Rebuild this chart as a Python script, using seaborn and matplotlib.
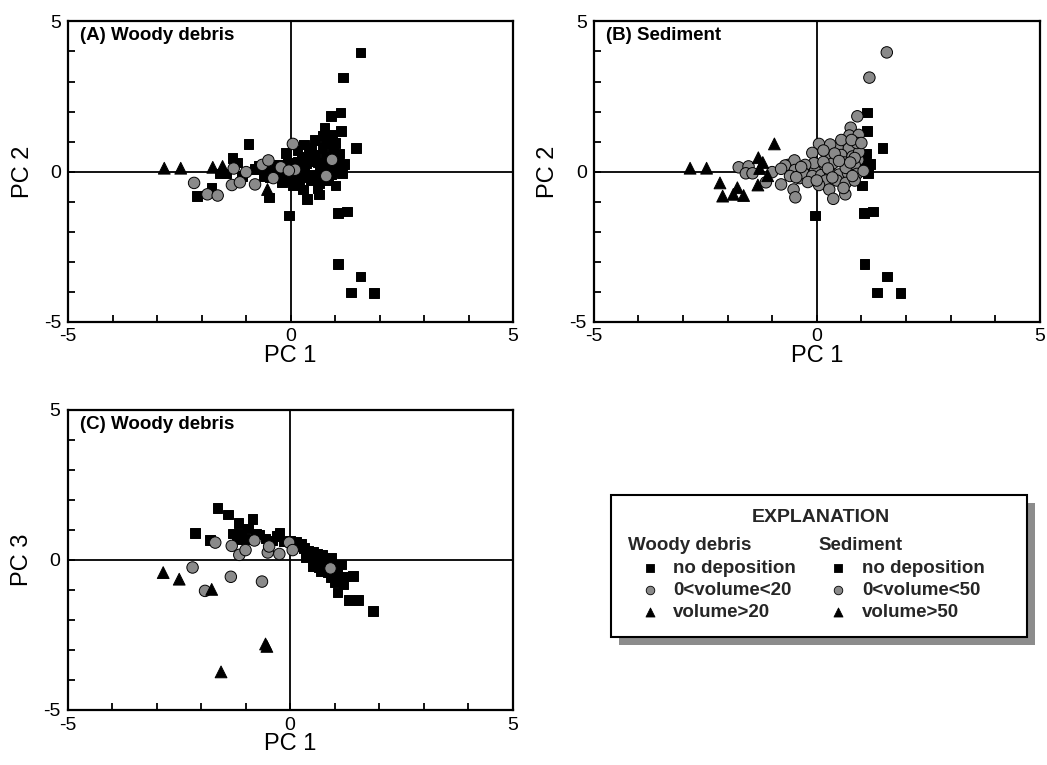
import matplotlib
matplotlib.use("Agg")
import matplotlib.pyplot as plt
from matplotlib.patches import Rectangle
import pandas as pd
import seaborn as sns

sns.set_theme(style="white")
plt.rcParams["font.family"] = ["Liberation Sans", "DejaVu Sans"]

# ---- Site scores on PC1 / PC2 (same sites in panels A and B) ----
pc1_ab = [
    -2.84, -2.47, -2.17, -2.11, -1.87, -1.78, -1.64, -1.75, -1.53, -1.59,
    -1.44, -1.31, -1.21, -1.28, -1.32, -1.14, -1.00, -0.95, -1.10, -0.80,
    -0.64, -0.50, -0.52, -0.48, -0.22, 0.05, 0.10, -0.04, 0.93, -0.39,
    1.57, 1.18, 1.12, 0.91, 1.13, 0.76, 0.73, 0.94, 1.47, 1.07,
    1.20, 1.01, -0.04, 1.06, 1.26, 1.07, 1.57, 1.35, 1.88, 0.47,
    0.72, 0.25, -0.10, 0.55, 0.80, 0.95, 0.36, 0.62, 0.85, 1.00,
    -0.06, 0.15, -0.26, -0.71, -0.49, -0.30, -0.10, 0.10, 0.30, 0.50,
    0.70, 0.90, -0.60, -0.80, 0.20, 0.45, 0.65, 0.85, 0.05, 0.28,
    0.37, 0.64, -0.46, 1.05, 0.90, 0.55, 0.30, 0.78, 1.00, 0.65,
    0.40, 0.15, -0.20, 0.80, 0.25, 0.50, 1.10, 0.85, 0.35, 0.60,
    0.00, -0.35, 0.75, 1.15,
]
pc2_ab = [
    0.11, 0.11, -0.38, -0.82, -0.76, -0.54, -0.80, 0.14, 0.17, -0.06,
    -0.06, 0.46, 0.30, 0.10, -0.45, -0.36, -0.02, 0.92, -0.14, -0.43,
    0.22, 0.37, -0.60, -0.86, 0.14, 0.92, 0.06, 0.03, 0.39, -0.22,
    3.97, 3.13, 1.97, 1.84, 1.34, 1.46, 1.20, 1.22, 0.78, 0.48,
    0.26, -0.47, -1.47, -1.38, -1.33, -3.09, -3.50, -4.03, -4.05, 0.80,
    0.78, 0.50, 0.62, 0.55, 0.50, 0.65, 0.27, 0.30, 0.22, 0.15,
    0.28, 0.32, 0.22, 0.20, 0.05, -0.05, -0.15, -0.12, -0.05, -0.10,
    -0.05, -0.08, -0.15, 0.09, -0.30, -0.30, -0.38, -0.30, -0.45, -0.60,
    -0.91, -0.76, -0.19, 0.02, 0.95, 1.05, 0.90, 1.05, 0.95, 0.12,
    0.60, 0.70, -0.35, -0.15, 0.10, 0.35, 0.60, 0.45, -0.20, -0.55,
    -0.30, 0.15, 0.30, -0.05,
]
# deposition class for each site: none / low / high
woody_ab = [
    "high", "high", "low", "none", "low", "none", "low", "high", "high", "none",
    "none", "none", "none", "low", "low", "low", "low", "none", "none", "low",
    "low", "low", "high", "none", "low", "low", "low", "low", "low", "low",
    "none", "none", "none", "none", "none", "none", "none", "none", "none", "none",
    "none", "none", "none", "none", "none", "none", "none", "none", "none", "none",
    "none", "none", "none", "none", "none", "none", "none", "none", "none", "none",
    "none", "none", "none", "none", "none", "none", "none", "none", "none", "none",
    "none", "none", "none", "none", "none", "none", "none", "none", "none", "none",
    "none", "none", "none", "none", "none", "none", "none", "none", "none", "none",
    "none", "none", "none", "low", "none", "none", "none", "none", "none", "none",
    "none", "none", "none", "none",
]
sediment_ab = [
    "high", "high", "high", "high", "high", "high", "high", "low", "low", "low",
    "low", "high", "high", "high", "high", "low", "low", "high", "high", "low",
    "low", "low", "low", "low", "low", "low", "low", "low", "low", "low",
    "low", "low", "none", "low", "none", "low", "low", "low", "none", "none",
    "none", "none", "none", "none", "none", "none", "none", "none", "none", "low",
    "low", "low", "low", "low", "low", "low", "low", "low", "low", "none",
    "low", "low", "low", "low", "low", "low", "low", "low", "low", "low",
    "low", "low", "low", "low", "low", "low", "low", "low", "low", "low",
    "low", "low", "low", "low", "low", "low", "low", "low", "low", "low",
    "low", "low", "low", "low", "low", "low", "none", "low", "low", "low",
    "low", "low", "low", "none",
]

# ---- Site scores on PC1 / PC3, coded by woody debris (panel C) ----
pc1_c = [
    -2.85, -2.49, -1.76, -1.55, -0.55, -0.52,
    -2.19, -1.91, -1.33, -0.63, -1.68, -1.31, -1.14, -1.00, -0.80, -0.50,
    -0.24, -0.47, -0.02, 0.06, 0.91,
    -1.63, -1.40, -1.16, -0.84, -2.13, -1.80, -1.29, -1.10, -0.76, -0.24,
    -1.20, -1.00, -0.55, -0.40, -0.15, 0.13, 0.32, 0.51, 0.73, 0.92,
    0.51, 0.70, 0.92, 1.11, 1.41, 1.07, 1.33, 1.54, 1.86,
    0.20, 0.40, 0.45, 0.60, 0.60, 0.75, 0.80, 0.95, 1.05, 0.85,
    1.15, 0.35, 0.55, 0.65, 1.00, 1.25, 0.10, 0.25, -0.70, -0.95,
    1.20, 0.00, -0.30,
]
pc3_c = [
    -0.42, -0.64, -0.98, -3.73, -2.80, -2.88,
    -0.25, -1.03, -0.56, -0.72, 0.58, 0.47, 0.17, 0.33, 0.65, 0.25,
    0.20, 0.45, 0.58, 0.33, -0.28,
    1.73, 1.51, 1.23, 1.37, 0.89, 0.67, 0.88, 0.88, 0.88, 0.91,
    0.68, 0.70, 0.72, 0.65, 0.62, 0.61, 0.39, 0.28, 0.17, 0.06,
    -0.22, -0.39, -0.56, -0.56, -0.53, -1.09, -1.34, -1.34, -1.71,
    0.45, 0.30, 0.15, 0.05, 0.20, -0.05, -0.20, -0.20, -0.35, -0.40,
    -0.15, 0.10, -0.05, -0.25, -0.75, -0.55, 0.50, 0.55, 0.85, 1.05,
    -0.80, 0.65, 0.80,
]
woody_c = (["high"] * 6) + (["low"] * 15) + (["none"] * 52)

# ---- marker styling per class ----
markers = {"none": "s", "low": "o", "high": "^"}
colors = {"none": "black", "low": "#8a8a8a", "high": "black"}
sizes = {"none": 48, "low": 68, "high": 72}
draw_order = {"none": 0, "low": 1, "high": 2}

fig = plt.figure(figsize=(10.47, 7.65), dpi=100)
ax_a = fig.add_axes([0.0651, 0.5797, 0.4250, 0.3922])
ax_b = fig.add_axes([0.5671, 0.5797, 0.4260, 0.3922])
ax_c = fig.add_axes([0.0645, 0.0719, 0.4250, 0.3922])

tick_pos = list(range(-5, 6))
tick_lab = ["-5" if t == -5 else "0" if t == 0 else "5" if t == 5 else "" for t in tick_pos]


def draw_panel(ax, x, y, cls, title, ylabel):
    df = pd.DataFrame({"x": x, "y": y, "cls": cls})
    df["order"] = df["cls"].map(draw_order)
    df = df.sort_values("order", kind="stable")
    ax.axhline(0, color="black", lw=1.3, zorder=1)
    ax.axvline(0, color="black", lw=1.3, zorder=1)
    sns.scatterplot(data=df, x="x", y="y", hue="cls", style="cls", size="cls",
                    palette=colors, markers=markers, sizes=sizes,
                    edgecolor="black", linewidth=0.7, legend=False,
                    ax=ax, zorder=3)
    ax.set_xlim(-5, 5)
    ax.set_ylim(-5, 5)
    ax.set_xticks(tick_pos)
    ax.set_xticklabels(tick_lab)
    ax.set_yticks(tick_pos)
    ax.set_yticklabels(tick_lab)
    ax.tick_params(direction="in", length=5, width=1.3, color="black",
                   bottom=True, left=True, top=False, right=False,
                   labelsize=14, labelcolor="black", pad=5)
    for sp in ax.spines.values():
        sp.set_visible(True)
        sp.set_color("black")
        sp.set_linewidth(1.6)
    ax.set_xlabel("PC 1", fontsize=17, color="black")
    ax.set_ylabel(ylabel, fontsize=17, color="black")
    ax.xaxis.set_label_coords(0.5, -0.078)
    ax.yaxis.set_label_coords(-0.077, 0.5)
    ax.text(0.027, 0.953, title, transform=ax.transAxes, fontsize=13.5,
            fontweight="bold", ha="left", va="center", color="black")
    ax.set_facecolor("white")


draw_panel(ax_a, pc1_ab, pc2_ab, woody_ab, "(A) Woody debris", "PC 2")
draw_panel(ax_b, pc1_ab, pc2_ab, sediment_ab, "(B) Sediment", "PC 2")
draw_panel(ax_c, pc1_c, pc3_c, woody_c, "(C) Woody debris", "PC 3")

# ---- explanation box ----
lg = fig.add_axes([0.5836, 0.1673, 0.3973, 0.1856])
lg.set_xlim(0, 1)
lg.set_ylim(0, 1)
lg.axis("off")
lg.add_patch(Rectangle((0.019, -0.056), 1, 1, facecolor="#8c8c8c",
                       edgecolor="none", clip_on=False, zorder=0))
lg.add_patch(Rectangle((0, 0), 1, 1, facecolor="white", edgecolor="black",
                       lw=1.5, clip_on=False, zorder=1))
lg.text(0.505, 0.845, "EXPLANATION", fontsize=14, fontweight="bold",
        ha="center", va="center", zorder=2)
lg.text(0.041, 0.648, "Woody debris", fontsize=13.5, fontweight="bold",
        ha="left", va="center", zorder=2)
lg.text(0.498, 0.648, "Sediment", fontsize=13.5, fontweight="bold",
        ha="left", va="center", zorder=2)

rows_y = [0.486, 0.331, 0.176]
classes = ["none", "low", "high"]
woody_text = ["no deposition", "0<volume<20", "volume>20"]
sed_text = ["no deposition", "0<volume<50", "volume>50"]
legend_sizes = {"none": 28, "low": 38, "high": 42}
for yy, c, wt, st in zip(rows_y, classes, woody_text, sed_text):
    for mx, tx, label in [(0.094, 0.149, wt), (0.546, 0.603, st)]:
        lg.scatter([mx], [yy], marker=markers[c], s=legend_sizes[c],
                   c=colors[c], edgecolors="black", linewidths=0.6, zorder=3,
                   clip_on=False)
        lg.text(tx, yy, label, fontsize=13.5, fontweight="bold",
                ha="left", va="center", zorder=2)

fig.savefig("out.png", dpi=100, facecolor="white")
